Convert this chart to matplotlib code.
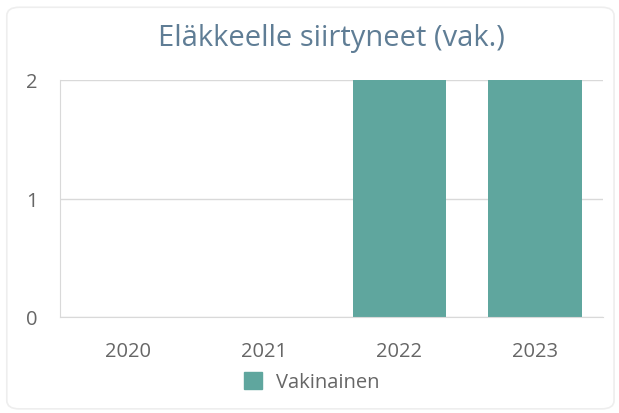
import matplotlib.pyplot as plt
from matplotlib.patches import FancyBboxPatch, Patch

years = ['2020', '2021', '2022', '2023']
vakinainen = [0, 0, 2, 2]
y_ticks = [0, 1, 2]

bar_color = '#5fa69e'
grid_color = '#d9d9d9'
text_color = '#666666'

plt.rcParams['font.family'] = ['Open Sans', 'DejaVu Sans']

fig = plt.figure(figsize=(6.19, 4.14), dpi=100)

# card background with rounded border
card = FancyBboxPatch((0.011, 0.01), 0.981, 0.97,
                      boxstyle='round,pad=0,rounding_size=0.02',
                      transform=fig.transFigure, facecolor='white',
                      edgecolor='#eeeeee', linewidth=1.2, zorder=-10)
fig.patches.append(card)

ax = fig.add_axes([60 / 619, 1 - 318 / 414, (603 - 60) / 619, (318 - 81) / 414])
ax.bar(range(len(years)), vakinainen, width=0.69, color=bar_color, zorder=2)
ax.set_xlim(-0.5, len(years) - 0.5)
ax.set_ylim(0, 2)
ax.set_yticks(y_ticks)
ax.set_xticks(range(len(years)))
ax.set_xticklabels(years)
ax.tick_params(length=0, colors=text_color, labelsize=14.5)
ax.tick_params(axis='x', pad=17)
ax.tick_params(axis='y', pad=16)
ax.grid(axis='y', color=grid_color, linewidth=1, zorder=0)
for side in ['top', 'right']:
    ax.spines[side].set_visible(False)
for side in ['left', 'bottom']:
    ax.spines[side].set_color(grid_color)
ax.set_facecolor('none')

fig.text(331 / 619, 1 - 46 / 414, 'Eläkkeelle siirtyneet (vak.)', ha='center', va='baseline',
         fontsize=21, color='#5f7d95')

fig.legend(handles=[Patch(color=bar_color, label='Vakinainen')], loc='center',
           bbox_to_anchor=(312 / 619, 1 - 383 / 414), frameon=False, fontsize=14.5,
           labelcolor=text_color, handlelength=0.9, handleheight=0.9, handletextpad=0.7)

fig.savefig('out.png', dpi=100)
